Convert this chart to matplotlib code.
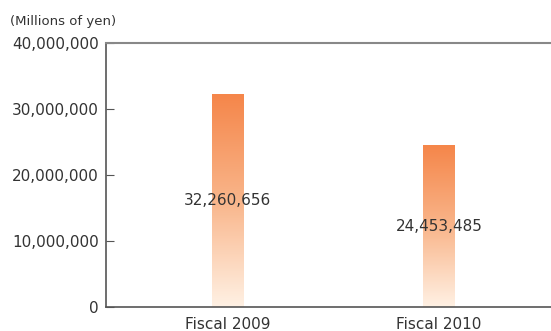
import numpy as np
import matplotlib.pyplot as plt
from matplotlib.colors import LinearSegmentedColormap

categories = ['Fiscal 2009', 'Fiscal 2010']
values = [32260656, 24453485]
yticks = [0, 10000000, 20000000, 30000000, 40000000]

plt.rcParams['font.family'] = 'DejaVu Sans'
txt = '#333333'

fig = plt.figure(figsize=(5.51, 3.31), dpi=100)
ax = fig.add_axes([106/551, 1-307/331, 445/551, 264/331])

# light-to-orange fade, bottom to top
cmap = LinearSegmentedColormap.from_list('fade', ['#fff1e4', '#f9b58a', '#f5864a'])
grad = np.linspace(0, 1, 256).reshape(-1, 1)

w = 0.148
x = np.arange(len(categories))
for xi, v in zip(x, values):
    ax.imshow(grad, cmap=cmap, origin='lower', aspect='auto',
              extent=(xi - w/2, xi + w/2, 0, v), zorder=2)
    ax.text(xi, v/2, '{:,}'.format(v), ha='center', va='center',
            fontsize=11, color=txt, zorder=3)

ax.set_xlim(-0.574, 1.53)
ax.set_ylim(0, 40000000)
ax.set_xticks(x)
ax.set_xticklabels(categories, fontsize=11, color=txt)
ax.set_yticks(yticks)
ax.set_yticklabels(['{:,}'.format(t) for t in yticks], fontsize=11, color=txt)
ax.tick_params(axis='y', direction='in', length=6, color='#555555', pad=5)
ax.tick_params(axis='x', length=0, pad=7)

ax.spines['right'].set_visible(False)
for s in ['left', 'bottom']:
    ax.spines[s].set_color('#555555')
    ax.spines[s].set_linewidth(1.2)
ax.spines['top'].set_color('#888888')
ax.spines['top'].set_linewidth(1.5)

fig.text(10/551, 1-22/331, '(Millions of yen)', fontsize=9.5, color=txt,
         ha='left', va='center')

fig.savefig('out.png', dpi=100)
